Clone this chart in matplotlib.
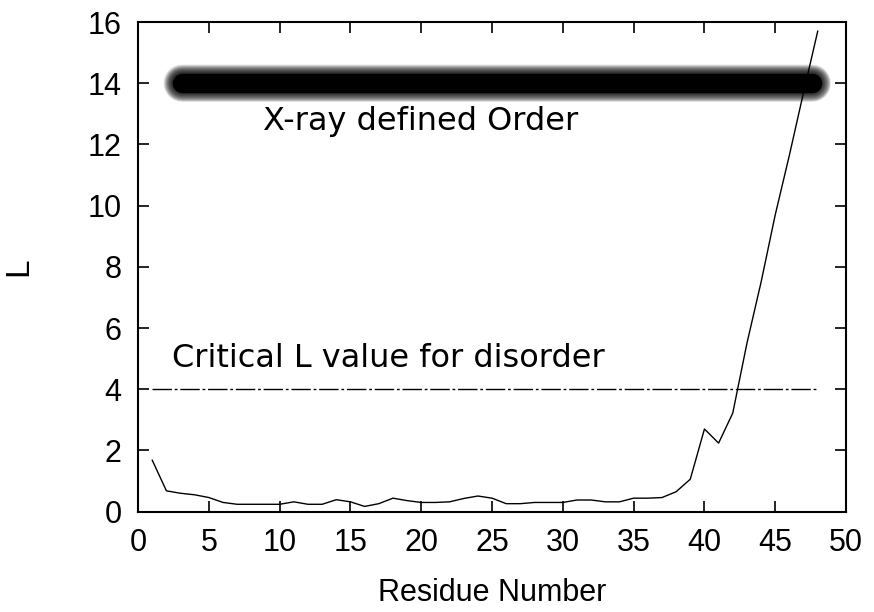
import matplotlib
matplotlib.use("Agg")
import matplotlib.pyplot as plt
import numpy as np

residues = list(range(1, 49))
L_values = [1.68, 0.68, 0.60, 0.55, 0.46, 0.30, 0.24, 0.24, 0.24, 0.24,
            0.32, 0.24, 0.24, 0.39, 0.32, 0.17, 0.26, 0.44, 0.36, 0.30,
            0.30, 0.32, 0.43, 0.51, 0.44, 0.26, 0.26, 0.30, 0.30, 0.30,
            0.38, 0.38, 0.32, 0.32, 0.44, 0.44, 0.46, 0.65, 1.06, 2.70,
            2.24, 3.22, 5.50, 7.50, 9.70, 11.65, 13.70, 15.70]
critical_x = [1, 48]
critical_L = [4, 4]
order_x = [3.1, 47.6]
order_L = [14, 14]

fig = plt.figure(figsize=(8.74, 6.12), dpi=100)
ax = fig.add_axes([0.158, 0.164, 0.810, 0.800])

# blurred thick "X-ray defined Order" bar
n = 30
for i in range(n):
    w = 27 - i * 0.5
    ax.plot(order_x, order_L, color="black", lw=w, alpha=0.06,
            solid_capstyle="round", zorder=2)
ax.plot(order_x, order_L, color="black", lw=14, solid_capstyle="round", zorder=2)

ax.plot(critical_x, critical_L, color="black", lw=1.0,
        dashes=(14, 2, 2, 2), zorder=3)
ax.plot(residues, L_values, color="black", lw=1.0, zorder=4)

ax.text(8.8, 12.75, "X-ray defined Order", fontsize=23, family="DejaVu Sans",
        ha="left", va="center")
ax.text(2.4, 5.0, "Critical L value for disorder", fontsize=23,
        family="DejaVu Sans", ha="left", va="center")

ax.set_xlim(0, 50)
ax.set_ylim(0, 16)
ax.set_xticks(range(0, 51, 5))
ax.set_yticks(range(0, 17, 2))
ax.tick_params(direction="in", length=8, width=1.2, top=True, right=True,
               labelsize=22, pad=12)
for lab in ax.get_xticklabels() + ax.get_yticklabels():
    lab.set_family("Liberation Sans")
for s in ax.spines.values():
    s.set_linewidth(1.5)

ax.set_xlabel("Residue Number", fontsize=22, family="Liberation Sans", labelpad=14)
ax.set_ylabel("L", fontsize=24, family="Liberation Sans", labelpad=38)

fig.savefig("out.png", dpi=100)
